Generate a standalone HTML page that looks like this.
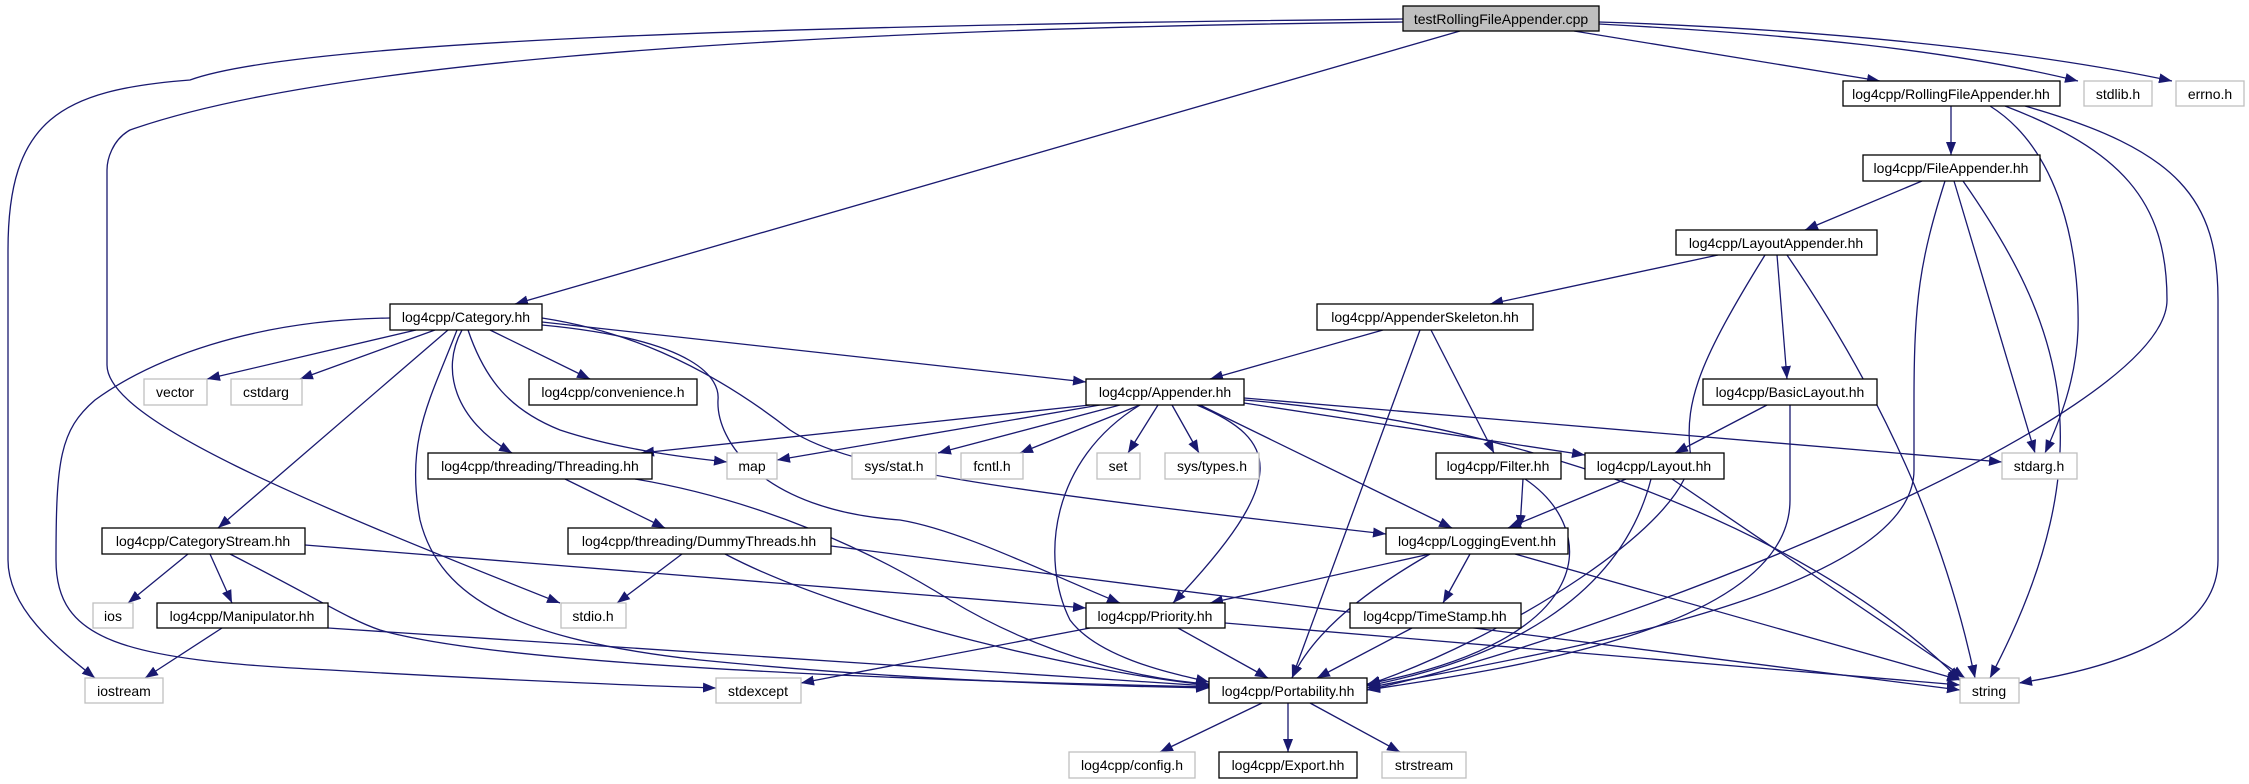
<!DOCTYPE html>
<html><head><meta charset="utf-8"><style>
html,body{margin:0;padding:0;background:#fff;}
svg{display:block}
text{font-family:"Liberation Sans",sans-serif;font-size:14px;fill:#000}
.e{fill:none;stroke:#191970;stroke-width:1.3;marker-end:url(#a)}
.n{fill:#fff;stroke:#000;stroke-width:1.3}
.x{fill:#fff;stroke:#bfbfbf;stroke-width:1.3}
</style></head><body>
<svg width="2249" height="784" viewBox="0 0 2249 784" xmlns="http://www.w3.org/2000/svg">
<defs><marker id="a" markerUnits="userSpaceOnUse" markerWidth="14" markerHeight="10" refX="13" refY="5" orient="auto"><path d="M0,0L13,5L0,10z" fill="#191970"/></marker></defs>
<g>
<path class="e" d="M1403,19 C800,25 300,40 190,80 C60,90 8,120 8,250 L8,560 C8,610 60,650 95,678"/>
<path class="e" d="M1403,22 C700,30 300,70 130,130 C112,140 107,160 107,170 L107,365 C107,420 300,500 560,603"/>
<path class="e" d="M1460,31 L515,304"/>
<path class="e" d="M1574,31 L1880,81"/>
<path class="e" d="M1599,24 C1800,35 1950,50 2078,81"/>
<path class="e" d="M1599,22 C1850,30 2050,55 2172,81"/>
<path class="e" d="M1951,106 L1951,155"/>
<path class="e" d="M1990,106 C2060,150 2080,250 2078,330 C2076,380 2060,420 2045,453"/>
<path class="e" d="M2005,106 C2120,150 2167,200 2167,300 C2167,420 1600,640 1367,690"/>
<path class="e" d="M2025,106 C2180,150 2218,200 2218,300 L2218,560 C2218,640 2100,670 2019,683"/>
<path class="e" d="M1922,181 L1805,230"/>
<path class="e" d="M1945,181 C1920,260 1914,300 1914,400 L1914,470 C1914,600 1500,660 1367,688"/>
<path class="e" d="M1954,181 L2035,453"/>
<path class="e" d="M1963,181 C2060,320 2110,450 1990,678"/>
<path class="e" d="M1718,255 L1490,304"/>
<path class="e" d="M1777,255 L1787,379"/>
<path class="e" d="M1765,255 C1700,360 1685,400 1690,450 C1700,520 1500,640 1367,685"/>
<path class="e" d="M1787,255 C1900,420 1950,560 1975,678"/>
<path class="e" d="M1383,330 L1210,379"/>
<path class="e" d="M1420,330 L1292,678"/>
<path class="e" d="M1431,330 L1494,453"/>
<path class="e" d="M1767,405 L1675,453"/>
<path class="e" d="M1790,405 L1790,500 C1790,630 1500,670 1367,690"/>
<path class="e" d="M1626,479 L1508,528"/>
<path class="e" d="M1651,479 C1620,600 1500,660 1367,686"/>
<path class="e" d="M1672,479 L1965,678"/>
<path class="e" d="M1523,479 L1520,528"/>
<path class="e" d="M1525,479 C1600,530 1600,640 1367,684"/>
<path class="e" d="M1430,554 L1210,603"/>
<path class="e" d="M1470,554 L1443,603"/>
<path class="e" d="M1430,554 C1350,600 1310,640 1292,678"/>
<path class="e" d="M1515,554 L1960,680"/>
<path class="e" d="M1412,628 L1317,678"/>
<path class="e" d="M1178,628 L1268,678"/>
<path class="e" d="M1090,628 L801,683"/>
<path class="e" d="M1225,623 L1960,685"/>
<path class="e" d="M1262,703 L1160,752"/>
<path class="e" d="M1288,703 L1288,752"/>
<path class="e" d="M1310,703 L1400,752"/>
<path class="e" d="M416,330 L207,379"/>
<path class="e" d="M435,330 L300,379"/>
<path class="e" d="M490,330 L590,379"/>
<path class="e" d="M542,322 L1086,382"/>
<path class="e" d="M390,318 C250,320 150,360 95,400 C60,430 56,460 56,560 C56,640 120,660 330,670 C500,680 650,686 716,688"/>
<path class="e" d="M448,330 L218,528"/>
<path class="e" d="M462,330 C440,370 455,420 512,453"/>
<path class="e" d="M457,330 C430,400 405,440 420,520 C440,600 520,640 700,660 C900,680 1100,686 1209,688"/>
<path class="e" d="M468,330 C485,380 510,410 560,430 C620,450 690,458 727,462"/>
<path class="e" d="M542,325 C700,340 720,380 718,400 C716,440 760,510 900,520 C960,530 1040,570 1120,603"/>
<path class="e" d="M542,318 C620,330 700,360 790,430 C850,470 1000,490 1386,534"/>
<path class="e" d="M1100,405 L777,460"/>
<path class="e" d="M1120,405 L938,453"/>
<path class="e" d="M1140,405 L1020,453"/>
<path class="e" d="M1158,405 L1128,453"/>
<path class="e" d="M1172,405 L1199,453"/>
<path class="e" d="M1090,405 L641,453"/>
<path class="e" d="M1244,403 L1585,455"/>
<path class="e" d="M1244,398 L2002,462"/>
<path class="e" d="M1200,405 L1452,528"/>
<path class="e" d="M1197,405 C1280,440 1290,480 1173,603"/>
<path class="e" d="M1140,405 C1050,460 1040,560 1070,620 C1100,660 1180,675 1209,682"/>
<path class="e" d="M1244,400 C1500,420 1800,520 1960,680"/>
<path class="e" d="M565,479 L665,528"/>
<path class="e" d="M635,479 C760,500 870,550 950,600 C1050,660 1150,680 1209,684"/>
<path class="e" d="M682,554 L617,603"/>
<path class="e" d="M725,554 C850,620 1100,675 1209,685"/>
<path class="e" d="M831,546 L1960,690"/>
<path class="e" d="M188,554 L128,603"/>
<path class="e" d="M210,554 L232,603"/>
<path class="e" d="M305,545 L1086,608"/>
<path class="e" d="M230,554 C320,600 350,620 380,630 C500,665 900,680 1209,687"/>
<path class="e" d="M222,628 L145,678"/>
<path class="e" d="M328,628 L1209,686"/>
</g>
<g>
<rect x="1403" y="6" width="196" height="25" fill="#bfbfbf" stroke="#000" stroke-width="1.3"/><text x="1501" y="24" text-anchor="middle">testRollingFileAppender.cpp</text>
<rect class="n" x="1843" y="81" width="217" height="25"/><text x="1951" y="99" text-anchor="middle">log4cpp/RollingFileAppender.hh</text>
<rect class="x" x="2084" y="81" width="68" height="25"/><text x="2118" y="99" text-anchor="middle">stdlib.h</text>
<rect class="x" x="2176" y="81" width="68" height="25"/><text x="2210" y="99" text-anchor="middle">errno.h</text>
<rect class="n" x="1863" y="155" width="177" height="26"/><text x="1951" y="173" text-anchor="middle">log4cpp/FileAppender.hh</text>
<rect class="n" x="1676" y="230" width="201" height="25"/><text x="1776" y="248" text-anchor="middle">log4cpp/LayoutAppender.hh</text>
<rect class="n" x="390" y="304" width="152" height="26"/><text x="466" y="322" text-anchor="middle">log4cpp/Category.hh</text>
<rect class="n" x="1317" y="304" width="216" height="26"/><text x="1425" y="322" text-anchor="middle">log4cpp/AppenderSkeleton.hh</text>
<rect class="x" x="144" y="379" width="63" height="26"/><text x="175" y="397" text-anchor="middle">vector</text>
<rect class="x" x="231" y="379" width="71" height="26"/><text x="266" y="397" text-anchor="middle">cstdarg</text>
<rect class="n" x="529" y="379" width="168" height="26"/><text x="613" y="397" text-anchor="middle">log4cpp/convenience.h</text>
<rect class="n" x="1086" y="379" width="158" height="26"/><text x="1165" y="397" text-anchor="middle">log4cpp/Appender.hh</text>
<rect class="n" x="1703" y="379" width="174" height="26"/><text x="1790" y="397" text-anchor="middle">log4cpp/BasicLayout.hh</text>
<rect class="n" x="428" y="453" width="224" height="26"/><text x="540" y="471" text-anchor="middle">log4cpp/threading/Threading.hh</text>
<rect class="x" x="727" y="453" width="50" height="26"/><text x="752" y="471" text-anchor="middle">map</text>
<rect class="x" x="852" y="453" width="84" height="26"/><text x="894" y="471" text-anchor="middle">sys/stat.h</text>
<rect class="x" x="961" y="453" width="62" height="26"/><text x="992" y="471" text-anchor="middle">fcntl.h</text>
<rect class="x" x="1097" y="453" width="43" height="26"/><text x="1118" y="471" text-anchor="middle">set</text>
<rect class="x" x="1165" y="453" width="94" height="26"/><text x="1212" y="471" text-anchor="middle">sys/types.h</text>
<rect class="n" x="1436" y="453" width="125" height="26"/><text x="1498" y="471" text-anchor="middle">log4cpp/Filter.hh</text>
<rect class="n" x="1585" y="453" width="139" height="26"/><text x="1654" y="471" text-anchor="middle">log4cpp/Layout.hh</text>
<rect class="x" x="2002" y="453" width="75" height="26"/><text x="2039" y="471" text-anchor="middle">stdarg.h</text>
<rect class="n" x="102" y="528" width="203" height="26"/><text x="203" y="546" text-anchor="middle">log4cpp/CategoryStream.hh</text>
<rect class="n" x="568" y="528" width="263" height="26"/><text x="699" y="546" text-anchor="middle">log4cpp/threading/DummyThreads.hh</text>
<rect class="n" x="1386" y="528" width="182" height="26"/><text x="1477" y="546" text-anchor="middle">log4cpp/LoggingEvent.hh</text>
<rect class="x" x="93" y="603" width="40" height="25"/><text x="113" y="621" text-anchor="middle">ios</text>
<rect class="n" x="157" y="603" width="171" height="25"/><text x="242" y="621" text-anchor="middle">log4cpp/Manipulator.hh</text>
<rect class="x" x="561" y="603" width="65" height="25"/><text x="593" y="621" text-anchor="middle">stdio.h</text>
<rect class="n" x="1086" y="603" width="139" height="25"/><text x="1155" y="621" text-anchor="middle">log4cpp/Priority.hh</text>
<rect class="n" x="1350" y="603" width="171" height="25"/><text x="1435" y="621" text-anchor="middle">log4cpp/TimeStamp.hh</text>
<rect class="x" x="85" y="678" width="78" height="25"/><text x="124" y="696" text-anchor="middle">iostream</text>
<rect class="x" x="716" y="678" width="85" height="25"/><text x="758" y="696" text-anchor="middle">stdexcept</text>
<rect class="n" x="1209" y="678" width="158" height="25"/><text x="1288" y="696" text-anchor="middle">log4cpp/Portability.hh</text>
<rect class="x" x="1960" y="678" width="59" height="25"/><text x="1989" y="696" text-anchor="middle">string</text>
<rect class="x" x="1069" y="752" width="126" height="26"/><text x="1132" y="770" text-anchor="middle">log4cpp/config.h</text>
<rect class="n" x="1219" y="752" width="138" height="26"/><text x="1288" y="770" text-anchor="middle">log4cpp/Export.hh</text>
<rect class="x" x="1382" y="752" width="84" height="26"/><text x="1424" y="770" text-anchor="middle">strstream</text>
</g>
</svg>
</body></html>
